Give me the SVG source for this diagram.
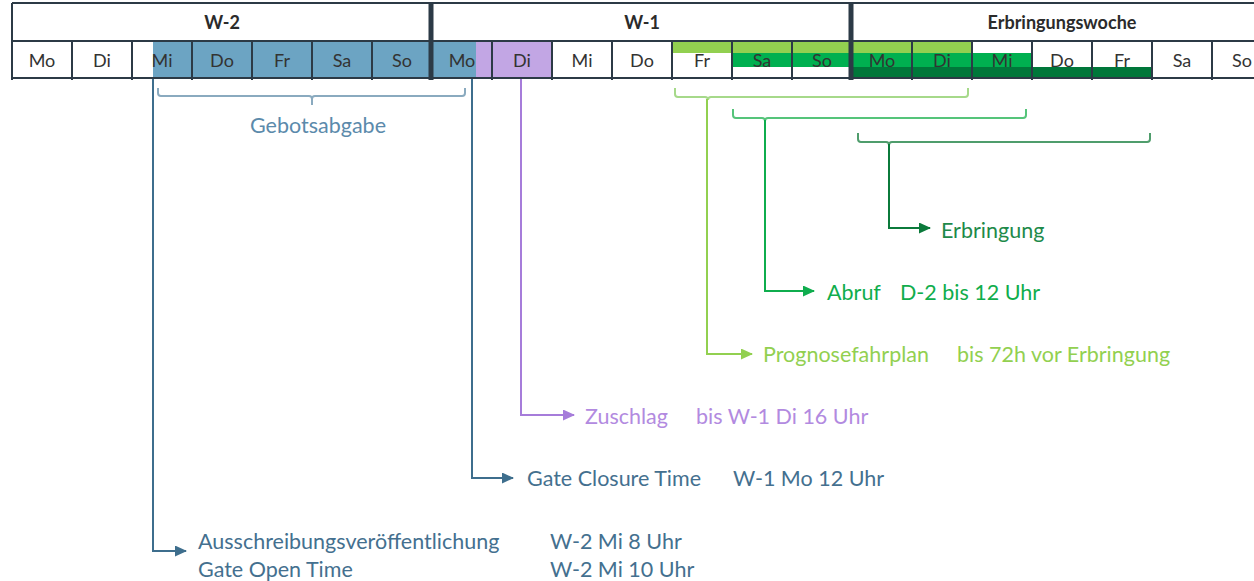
<svg xmlns="http://www.w3.org/2000/svg" width="1254" height="581" viewBox="0 0 1254 581">
<style>
.grid{stroke:#2c3a46;stroke-width:2;fill:none}
.thick{stroke:#2c3a46;stroke-width:5;fill:none}
.day{font-family:Lato,"Liberation Sans",sans-serif;font-size:18px;fill:#333;text-anchor:middle}
.hdr{font-family:Lato,"Liberation Sans",sans-serif;font-size:18px;font-weight:bold;fill:#2b2b2b;text-anchor:middle}
.lbl{font-family:Lato,"Liberation Sans",sans-serif;font-size:21.5px}
.conn{fill:none;stroke-width:2}
</style>
<defs>
<marker id="aBlue" viewBox="0 0 12 11" refX="11" refY="5.5" markerWidth="6" markerHeight="5.5" orient="auto" markerUnits="strokeWidth"><path d="M0,0L12,5.5L0,11z" fill="#3e6e8d"/></marker>
<marker id="aPurple" viewBox="0 0 12 11" refX="11" refY="5.5" markerWidth="6" markerHeight="5.5" orient="auto" markerUnits="strokeWidth"><path d="M0,0L12,5.5L0,11z" fill="#a67cda"/></marker>
<marker id="aLight" viewBox="0 0 12 11" refX="11" refY="5.5" markerWidth="6" markerHeight="5.5" orient="auto" markerUnits="strokeWidth"><path d="M0,0L12,5.5L0,11z" fill="#92d050"/></marker>
<marker id="aMid" viewBox="0 0 12 11" refX="11" refY="5.5" markerWidth="6" markerHeight="5.5" orient="auto" markerUnits="strokeWidth"><path d="M0,0L12,5.5L0,11z" fill="#0fad4e"/></marker>
<marker id="aDark" viewBox="0 0 12 11" refX="11" refY="5.5" markerWidth="6" markerHeight="5.5" orient="auto" markerUnits="strokeWidth"><path d="M0,0L12,5.5L0,11z" fill="#0b7a3b"/></marker>
</defs>
<rect width="1254" height="581" fill="#fff"/>

<g id="table">
  <rect x="153" y="41" width="323" height="37" fill="#6ca4c3"/>
  <rect x="476" y="41" width="76" height="37" fill="#c2a6e4"/>
  <rect x="672" y="41" width="300" height="12" fill="#92d050"/>
  <rect x="732" y="53" width="300" height="14" fill="#00b050"/>
  <rect x="852" y="67" width="300" height="11" fill="#00773a"/>
  <line class="grid" x1="12" y1="3" x2="1254" y2="3"/>
  <line class="grid" x1="12" y1="41" x2="1254" y2="41"/>
  <line class="grid" x1="12" y1="78" x2="1254" y2="78"/>
  <path class="grid" d="M12,3V80M72,41V80M132,41V80M192,41V80M252,41V80M312,41V80M372,41V80M492,41V80M552,41V80M612,41V80M672,41V80M732,41V80M792,41V80M912,41V80M972,41V80M1032,41V80M1092,41V80M1152,41V80M1212,41V80"/>
  <path class="thick" d="M431,3V80M851,3V80"/>
  <text class="hdr" x="222" y="29">W-2</text>
  <text class="hdr" x="642" y="29">W-1</text>
  <text class="hdr" x="1062" y="29">Erbringungswoche</text>
  <g id="days">
    <text class="day" x="42" y="67">Mo</text><text class="day" x="102" y="67">Di</text><text class="day" x="162" y="67">Mi</text><text class="day" x="222" y="67">Do</text><text class="day" x="282" y="67">Fr</text><text class="day" x="342" y="67">Sa</text><text class="day" x="402" y="67">So</text>
    <text class="day" x="462" y="67">Mo</text><text class="day" x="522" y="67">Di</text><text class="day" x="582" y="67">Mi</text><text class="day" x="642" y="67">Do</text><text class="day" x="702" y="67">Fr</text><text class="day" x="762" y="67">Sa</text><text class="day" x="822" y="67">So</text>
    <text class="day" x="882" y="67">Mo</text><text class="day" x="942" y="67">Di</text><text class="day" x="1002" y="67">Mi</text><text class="day" x="1062" y="67">Do</text><text class="day" x="1122" y="67">Fr</text><text class="day" x="1182" y="67">Sa</text><text class="day" x="1242" y="67">So</text>
  </g>
</g>

<g id="connectors">
  <path class="conn" stroke="#8aaabf" d="M158,88V93Q158,96 161,96H309Q312,96 312,99V105M312,99Q312,96 315,96H462Q465,96 465,93V88"/>
  <path class="conn" stroke="#a6d98a" d="M675,88V94Q675,97 678,97H705Q708,97 708,100M708,100Q708,97 711,97H965Q968,97 968,94V88"/>
  <path class="conn" stroke="#55c47a" d="M733,109V115Q733,118 736,118H762Q765,118 765,121M765,121Q765,118 768,118H1023Q1026,118 1026,115V109"/>
  <path class="conn" stroke="#4f9d6c" d="M858,133V139Q858,142 861,142H886Q889,142 889,145M889,145Q889,142 892,142H1147Q1150,142 1150,139V133"/>
  <path class="conn" stroke="#3e6e8d" marker-end="url(#aBlue)" d="M153,79V551H186"/>
  <path class="conn" stroke="#3e6e8d" marker-end="url(#aBlue)" d="M472,79V478H513"/>
  <path class="conn" stroke="#a67cda" marker-end="url(#aPurple)" d="M521,79V415H574"/>
  <path class="conn" stroke="#92d050" marker-end="url(#aLight)" d="M707,99V354H752"/>
  <path class="conn" stroke="#0fad4e" marker-end="url(#aMid)" d="M765,120V291H814"/>
  <path class="conn" stroke="#0b7a3b" marker-end="url(#aDark)" d="M889,144V228H930"/>
</g>

<g id="gebotsabgabe"><text class="lbl" x="318" y="133" text-anchor="middle" fill="#5b8aab">Gebotsabgabe</text></g>
<g id="erbringung"><text class="lbl" x="941" y="238" fill="#1e8a4a">Erbringung</text></g>
<g id="abruf"><text class="lbl" x="827" y="300" fill="#10ad4c">Abruf</text><text class="lbl" x="900" y="300" fill="#10ad4c">D-2 bis 12 Uhr</text></g>
<g id="prognose"><text class="lbl" x="763" y="362" fill="#92d050">Prognosefahrplan</text><text class="lbl" x="957" y="362" fill="#92d050">bis 72h vor Erbringung</text></g>
<g id="zuschlag"><text class="lbl" x="585" y="424" fill="#b28ae0">Zuschlag</text><text class="lbl" x="696" y="424" fill="#b28ae0">bis W-1 Di 16 Uhr</text></g>
<g id="gct"><text class="lbl" x="527" y="486" fill="#44708f">Gate Closure Time</text><text class="lbl" x="733" y="486" fill="#44708f">W-1 Mo 12 Uhr</text></g>
<g id="got">
  <text class="lbl" x="198" y="549" fill="#44708f">Ausschreibungsveröffentlichung</text><text class="lbl" x="550" y="549" fill="#44708f">W-2 Mi 8 Uhr</text>
  <text class="lbl" x="198" y="577" fill="#44708f">Gate Open Time</text><text class="lbl" x="550" y="577" fill="#44708f">W-2 Mi 10 Uhr</text>
</g>
</svg>
